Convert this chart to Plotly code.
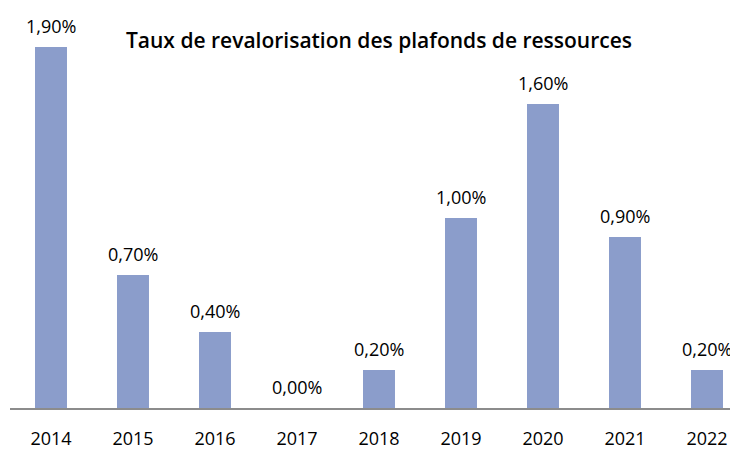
import plotly.graph_objects as go

years = ["2014", "2015", "2016", "2017", "2018", "2019", "2020", "2021", "2022"]
rates = [1.90, 0.70, 0.40, 0.00, 0.20, 1.00, 1.60, 0.90, 0.20]
labels = ["1,90%", "0,70%", "0,40%", "0,00%", "0,20%", "1,00%", "1,60%", "0,90%", "0,20%"]
title = "Taux de revalorisation des plafonds de ressources"

FONT = "'Open Sans', Lato, sans-serif"

# The page body has an 8px default margin, so the figure is sized to fit the window.
W, H = 730, 442

fig = go.Figure()
fig.add_trace(go.Bar(
    x=years, y=rates, width=0.39,
    marker=dict(color="#8B9DCB", line=dict(width=0)),
    hoverinfo="skip",
))

for i, (v, lab) in enumerate(zip(rates, labels)):
    fig.add_annotation(x=i, y=v, xref="x", yref="y", text=lab, showarrow=False,
                       yanchor="middle", yshift=21,
                       font=dict(family=FONT, size=18, color="#000000"))

fig.update_layout(
    width=W, height=H,
    margin=dict(l=0, r=0, t=20, b=42),
    paper_bgcolor="white", plot_bgcolor="white",
    showlegend=False,
    title=dict(text=title, x=371/W, xanchor="center", xref="paper",
               y=1 - 33/H, yanchor="middle", yref="container",
               font=dict(family=FONT, size=21, color="#000000", weight=600)),
    xaxis=dict(type="category", domain=[2/W, 1], range=[-0.5, 8.378],
               automargin=False,
               showline=True, linecolor="#8c8c8c", linewidth=1.5,
               showgrid=False, ticks="", ticklabelstandoff=14,
               tickfont=dict(family=FONT, size=18, color="#000000")),
    yaxis=dict(range=[0, 2.0], automargin=False, showticklabels=False,
               showline=False, showgrid=False, zeroline=False),
)

fig.write_html("out.html")
